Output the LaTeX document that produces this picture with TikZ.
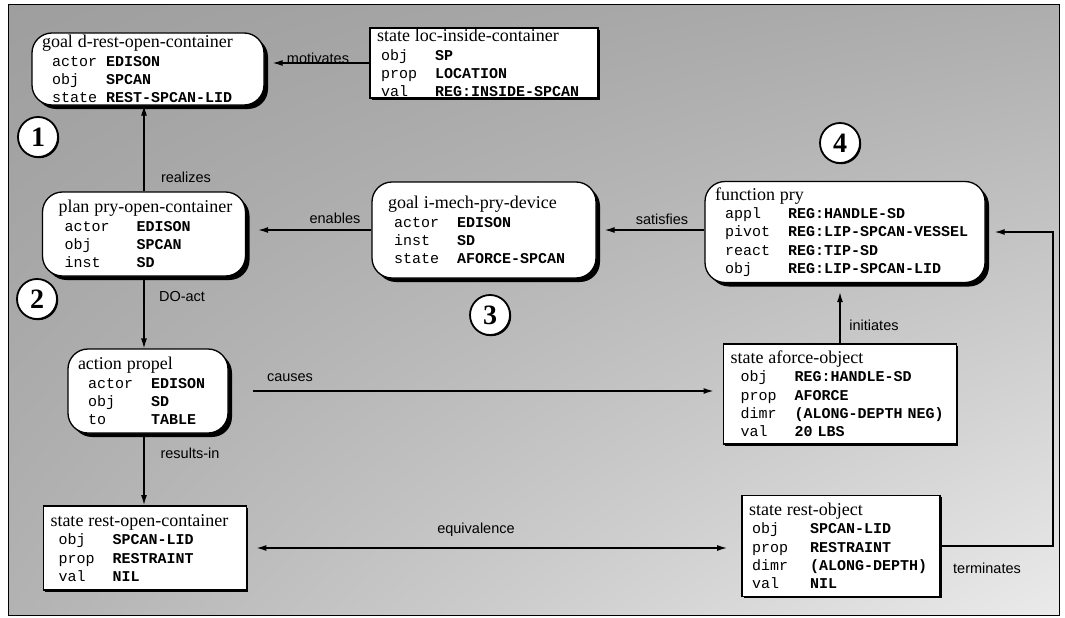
\documentclass[tikz,border=0pt]{standalone}
\usepackage{fontspec}
\setmainfont{Liberation Serif}
\setsansfont{Liberation Sans}
\setmonofont{Liberation Mono}
\usetikzlibrary{arrows.meta,shadows,calc,shadings}
\newlength{\attrw}
\newlength{\attri}
\newcommand{\ttl}[1]{{\rmfamily\mdseries\fontsize{18}{18.3}\selectfont #1}}
\newcommand{\av}[2]{\hspace*{\attri}\makebox[\attrw][l]{#1}\textbf{#2}}
\newcommand{\setcols}[2]{\setlength{\attri}{#1}\setlength{\attrw}{#2}}
\tikzset{
  boxfont/.style={font=\fontsize{15}{18.3}\selectfont\ttfamily},
  pill/.style={draw, line width=1.3pt, fill=white, rounded corners=20pt,
    inner xsep=10pt, inner ysep=1pt, align=left, boxfont,
    drop shadow={fill=black, opacity=1, shadow xshift=4pt, shadow yshift=-4pt}},
  statebox/.style={draw, line width=1.9pt, fill=white, inner xsep=7pt,
    inner ysep=1pt, align=left, boxfont,
    drop shadow={fill=black, opacity=1, shadow xshift=1.6pt, shadow yshift=-1.6pt}},
  circ/.style={circle, draw, line width=1.8pt, fill=white, minimum size=40pt,
    inner sep=0pt, font=\fontsize{28}{28}\selectfont\bfseries,
    drop shadow={fill=black, opacity=1, shadow xshift=1.2pt, shadow yshift=-1.2pt}},
  lbl/.style={font=\sffamily\fontsize{14.5}{15}\selectfont, inner sep=1pt},
  arr/.style={line width=1.3pt, -{Latex[length=10pt,width=6pt]}},
  arr2/.style={line width=1.3pt, {Latex[length=10pt,width=6pt]}-{Latex[length=10pt,width=6pt]}}
}
\begin{document}
\begin{tikzpicture}[x=1pt,y=-1pt]
\useasboundingbox (0,0) rectangle (1065,618);
\shade[upper left=black!38, upper right=black!32, lower left=black!30, lower right=black!8] (8,5) rectangle (1059,615);
\draw[line width=1pt] (8,5) rectangle (1059,615);

% frames
\node[pill, text width=212pt, minimum height=72pt] (goalD) at (148,69)
 {\setcols{10pt}{54pt}\ttl{goal d-rest-open-container}\\\av{actor}{EDISON}\\\av{obj}{SPCAN}\\\av{state}{REST-SPCAN-LID}};
\node[statebox, text width=214pt, minimum height=70pt] (stateLoc) at (484,63)
 {\setcols{4pt}{54pt}\ttl{state loc-inside-container}\\\av{obj}{SP}\\\av{prop}{LOCATION}\\\av{val}{REG:INSIDE-SPCAN}};
\node[pill, text width=183pt, minimum height=84pt] (planPry) at (144,234)
 {\setcols{12pt}{72pt}\hspace*{6pt}\ttl{plan pry-open-container}\\\av{actor}{EDISON}\\\av{obj}{SPCAN}\\\av{inst}{SD}};
\node[pill, text width=204pt, minimum height=96pt] (goalI) at (484,230)
 {\setcols{12pt}{63pt}\hspace*{6pt}\ttl{goal i-mech-pry-device}\\\av{actor}{EDISON}\\\av{inst}{SD}\\\av{state}{AFORCE-SPCAN}};
\node[pill, text width=260pt, minimum height=101pt] (funcPry) at (845,232)
 {\setcols{10pt}{63pt}\ttl{function pry}\\\av{appl}{REG:HANDLE-SD}\\\av{pivot}{REG:LIP-SPCAN-VESSEL}\\\av{react}{REG:TIP-SD}\\\av{obj}{REG:LIP-SPCAN-LID}};
\node[pill, text width=140pt, minimum height=84pt] (actionPropel) at (148,391)
 {\setcols{10pt}{63pt}\ttl{action propel}\\\av{actor}{EDISON}\\\av{obj}{SD}\\\av{to}{TABLE}};
\node[statebox, text width=219pt, minimum height=100pt] (stateAforce) at (840,394)
 {\setcols{10pt}{54pt}\ttl{state aforce-object}\\\av{obj}{REG:HANDLE-SD}\\\av{prop}{AFORCE}\\\av{dimr}{(ALONG-DEPTH NEG)}\\\av{val}{20 LBS}};
\node[statebox, text width=189pt, minimum height=84pt] (stateRestOpen) at (145,548)
 {\setcols{8pt}{54pt}\ttl{state rest-open-container}\\\av{obj}{SPCAN-LID}\\\av{prop}{RESTRAINT}\\\av{val}{NIL}};
\node[statebox, text width=184pt, minimum height=101pt] (stateRestObj) at (841,546)
 {\setcols{3pt}{58pt}\ttl{state rest-object}\\\av{obj}{SPCAN-LID}\\\av{prop}{RESTRAINT}\\\av{dimr}{(ALONG-DEPTH)}\\\av{val}{NIL}};

% numbered circles
\node[circ] (c1) at (38,137) {1};
\node[circ] (c2) at (37,299) {2};
\node[circ] (c3) at (490,315) {3};
\node[circ] (c4) at (840,143) {4};

% connectors
\coordinate (tc) at (1053,0);
\draw[arr, shorten >=8pt] (stateLoc.west) -- (stateLoc.west -| goalD.east);
\draw[arr] (planPry.north) -- (planPry.north |- goalD.south);
\draw[arr, shorten >=12pt] (goalI.west) -- (goalI.west -| planPry.east);
\draw[arr, shorten >=8pt] (funcPry.west |- goalI.east) -- (goalI.east);
\draw[arr] (planPry.south) -- (planPry.south |- actionPropel.north);
\draw[arr, shorten <=24pt, shorten >=9pt] (actionPropel.east) -- (actionPropel.east -| stateAforce.west);
\draw[arr, shorten >=9pt] (stateAforce.north) -- (stateAforce.north |- funcPry.south);
\draw[arr] (planPry.south |- actionPropel.south) -- (planPry.south |- stateRestOpen.north);
\draw[arr2, shorten <=9pt, shorten >=14pt] (stateRestOpen.east) -- (stateRestOpen.east -| stateRestObj.west);
\draw[arr, shorten >=9pt] (stateRestObj.east) -- (stateRestObj.east -| tc) -- (tc |- funcPry.east) -- (funcPry.east);

% connector labels
\node[lbl] (lmot) at (318,58) {motivates};
\node[lbl] (lrea) at (186,177) {realizes};
\node[lbl] (lena) at (335,218) {enables};
\node[lbl] (lsat) at (662,219) {satisfies};
\node[lbl] (ldo) at (182,297) {DO-act};
\node[lbl] (lcau) at (290,378) {causes};
\node[lbl] (lres) at (190,453) {results-in};
\node[lbl] (lini) at (874,325) {initiates};
\node[lbl] (lequ) at (476,530) {equivalence};
\node[lbl] (lter) at (987,568) {terminates};
\end{tikzpicture}
\end{document}
